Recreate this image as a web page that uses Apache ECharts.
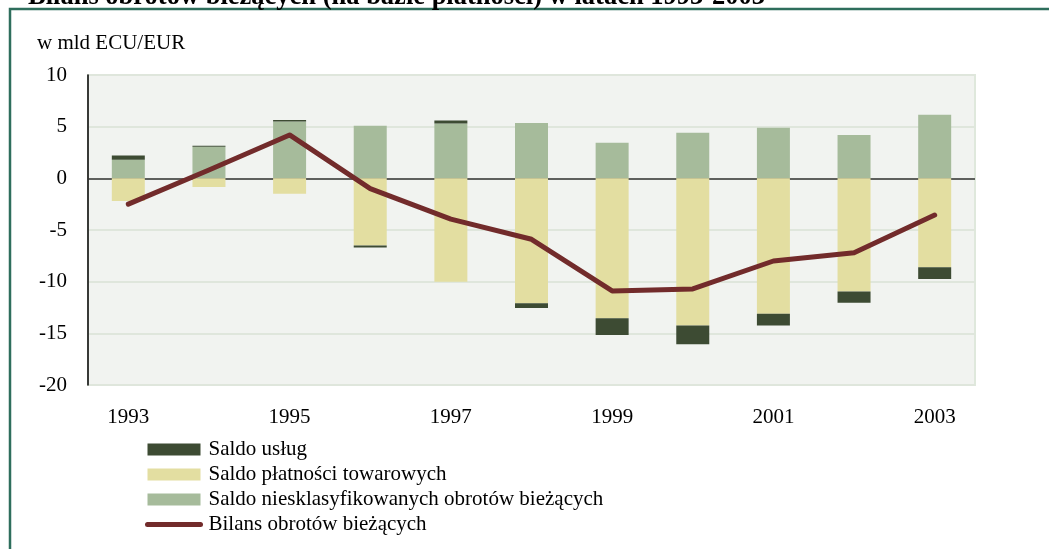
<!DOCTYPE html>
<html>
<head>
<meta charset="utf-8">
<script src="https://cdn.jsdelivr.net/npm/echarts@6/dist/echarts.min.js"></script>
<style>
  html, body { margin: 0; padding: 0; background: #fff; }
  #chart { width: 1049px; height: 549px; }
</style>
</head>
<body>
<div id="chart"></div>
<script>
// lata
var years = ['1993', '1994', '1995', '1996', '1997', '1998', '1999', '2000', '2001', '2002', '2003'];

// Saldo usług
var uslugi = [0.4, 0.1, 0.15, -0.2, 0.3, -0.45, -1.6, -1.8, -1.15, -1.1, -1.15];
// Saldo płatności towarowych
var towary = [-2.2, -0.85, -1.5, -6.5, -10.0, -12.1, -13.55, -14.25, -13.1, -10.95, -8.6];
// Saldo niesklasyfikowanych obrotów bieżących
var niesklas = [1.8, 3.05, 5.5, 5.1, 5.3, 5.35, 3.45, 4.4, 4.9, 4.2, 6.15];
// Bilans obrotów bieżących
var bilans = [-2.5, 0.8, 4.2, -1.0, -3.95, -5.9, -10.9, -10.7, -8.0, -7.2, -3.55];

var yTicks = { min: -20, max: 10, step: 5 };

var serif = 'Liberation Serif';

var chart = echarts.init(document.getElementById('chart'));

var option = {
  backgroundColor: '#ffffff',
  animation: false,
  title: {
    text: 'Bilans obrotów bieżących (na bazie płatności) w latach 1993-2003',
    left: 23,
    top: -21,
    textStyle: { fontFamily: serif, fontSize: 26.5, fontWeight: 'bold', color: '#000' }
  },
  graphic: [
    // ramka
    {
      type: 'polyline',
      shape: { points: [[10, 560], [10, 9], [1060, 9]] },
      style: { stroke: '#2e6e5c', lineWidth: 2.5, fill: null },
      silent: true
    },
    {
      type: 'text',
      left: 37,
      top: 33,
      style: { text: 'w mld ECU/EUR', font: '21px "Liberation Serif"', fill: '#000' }
    }
  ],
  legend: {
    orient: 'vertical',
    left: 140,
    top: 434,
    itemWidth: 53,
    itemHeight: 12,
    itemGap: 4,
    textStyle: { fontFamily: serif, fontSize: 21, lineHeight: 21, color: '#000', padding: [0, 0, 0, 3] },
    data: [
      { name: 'Saldo usług', icon: 'rect' },
      { name: 'Saldo płatności towarowych', icon: 'rect' },
      { name: 'Saldo niesklasyfikowanych obrotów bieżących', icon: 'rect' },
      {
        name: 'Bilans obrotów bieżących',
        itemStyle: { color: 'rgba(0,0,0,0)', borderWidth: 0, opacity: 0 },
        lineStyle: { color: '#722b2b', width: 5, cap: 'round' }
      }
    ]
  },
  grid: {
    left: 88,
    right: 74,
    top: 75,
    bottom: 164,
    show: true,
    backgroundColor: '#f1f3f0',
    borderColor: '#dfe8dc',
    borderWidth: 2
  },
  xAxis: {
    type: 'category',
    data: years,
    axisLine: { show: false, onZero: false },
    axisTick: { show: false },
    axisLabel: {
      interval: 1,
      margin: 22,
      fontFamily: serif,
      fontSize: 21,
      color: '#000'
    }
  },
  yAxis: {
    type: 'value',
    min: yTicks.min,
    max: yTicks.max,
    interval: yTicks.step,
    axisLine: { show: true, lineStyle: { color: '#000', width: 1.5 } },
    axisTick: { show: false },
    axisLabel: {
      margin: 21,
      fontFamily: serif,
      fontSize: 21,
      color: '#000'
    },
    splitLine: { lineStyle: { color: '#dfe6dc', width: 2 } }
  },
  series: [
    {
      name: 'Saldo niesklasyfikowanych obrotów bieżących',
      type: 'bar',
      stack: 'saldo',
      barWidth: 33,
      itemStyle: { color: '#a6bb9b' },
      data: niesklas
    },
    {
      name: 'Saldo płatności towarowych',
      type: 'bar',
      stack: 'saldo',
      barWidth: 33,
      itemStyle: { color: '#e3dea1' },
      data: towary
    },
    {
      name: 'Saldo usług',
      type: 'bar',
      stack: 'saldo',
      barWidth: 33,
      itemStyle: { color: '#3d4b33' },
      data: uslugi
    },
    {
      name: 'Bilans obrotów bieżących',
      type: 'line',
      symbol: 'none',
      z: 5,
      lineStyle: { color: '#722b2b', width: 5, cap: 'round', join: 'round' },
      itemStyle: { color: '#722b2b' },
      data: bilans,
      markLine: {
        silent: true,
        symbol: 'none',
        label: { show: false },
        lineStyle: { color: '#333', width: 1.5, type: 'solid' },
        data: [{ yAxis: 0 }],
        z: 1
      }
    }
  ]
};

chart.setOption(option);
</script>
</body>
</html>
